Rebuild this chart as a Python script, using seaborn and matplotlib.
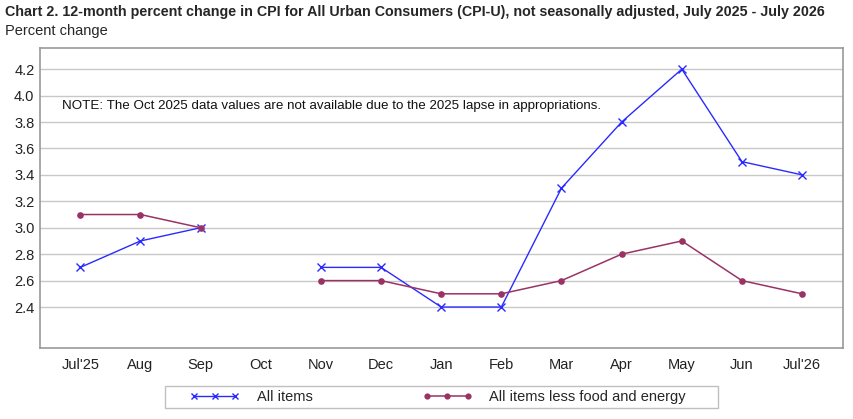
import numpy as np
import pandas as pd
import matplotlib
matplotlib.use('Agg')
import matplotlib.pyplot as plt
from matplotlib.lines import Line2D
from matplotlib.patches import Rectangle
import seaborn as sns

months = ["Jul'25", 'Aug', 'Sep', 'Oct', 'Nov', 'Dec', 'Jan', 'Feb', 'Mar', 'Apr', 'May', 'Jun', "Jul'26"]
all_items = [2.7, 2.9, 3.0, np.nan, 2.7, 2.7, 2.4, 2.4, 3.3, 3.8, 4.2, 3.5, 3.4]
core = [3.1, 3.1, 3.0, np.nan, 2.6, 2.6, 2.5, 2.5, 2.6, 2.8, 2.9, 2.6, 2.5]
yticks = [2.4, 2.6, 2.8, 3.0, 3.2, 3.4, 3.6, 3.8, 4.0, 4.2]

blue = '#2a2aff'
maroon = '#993366'

# long table, segment id splits the series at the missing October value
rows = []
for name, vals in [('All items', all_items), ('All items less food and energy', core)]:
    seg = 0
    for i, v in enumerate(vals):
        if np.isnan(v):
            seg += 1
            continue
        rows.append({'x': i, 'value': v, 'series': name, 'seg': seg})
df = pd.DataFrame(rows)

sns.set_style('white')
plt.rcParams['font.family'] = ['Liberation Sans', 'DejaVu Sans']

fig = plt.figure(figsize=(8.54, 4.19), dpi=100)
ax = fig.add_axes([40 / 854, 1 - 348 / 419, 803 / 854, 300 / 419])

sns.lineplot(data=df[df.series == 'All items'], x='x', y='value', units='seg', estimator=None,
             color=blue, marker='x', markersize=6, markeredgewidth=1, markeredgecolor=blue,
             linewidth=1, ax=ax, legend=False)
sns.lineplot(data=df[df.series != 'All items'], x='x', y='value', units='seg', estimator=None,
             color=maroon, marker='o', markersize=4.8, markeredgewidth=0, linewidth=1.1, ax=ax, legend=False)

ax.set_xlim(-0.67, 12.68)
ax.set_ylim(2.09, 4.36)
ax.set_xticks(range(len(months)))
ax.set_xticklabels(months)
ax.set_yticks(yticks)
ax.set_yticklabels(['%.1f' % t for t in yticks])
ax.set_xlabel('')
ax.set_ylabel('')
ax.yaxis.grid(True, color='#c8c8c8', linewidth=1)
ax.set_axisbelow(True)
ax.tick_params(axis='x', length=3, color='#999999', labelsize=10.5, pad=4, labelcolor='#222222')
ax.tick_params(axis='y', length=0, labelsize=10.5, pad=4, labelcolor='#222222')
for s in ax.spines.values():
    s.set_color('#999999')
    s.set_linewidth(1.2)

ax.text(0.027, 0.807, 'NOTE: The Oct 2025 data values are not available due to the 2025 lapse in appropriations.',
        transform=ax.transAxes, fontsize=9.6, va='center', color='#111111')

fig.text(5 / 854, 1 - 12 / 419, 'Chart 2. 12-month percent change in CPI for All Urban Consumers (CPI-U), '
         'not seasonally adjusted, July 2025 - July 2026', fontsize=10.3, fontweight='bold', va='center')
fig.text(5 / 854, 1 - 31 / 419, 'Percent change', fontsize=10.5, va='center')

# legend box drawn separately so the padding matches
fig.patches.append(Rectangle((165 / 854, 1 - 408 / 419), 553 / 854, 22 / 419, transform=fig.transFigure,
                             facecolor='white', edgecolor='#c0c0c0', linewidth=1))
handles = [Line2D([], [], color=blue, marker='x', markersize=4.5, markeredgewidth=1, linewidth=1),
           Line2D([], [], color=maroon, marker='o', markersize=4.5, markeredgewidth=0, linewidth=1.1)]
leg = fig.legend(handles, ['All items', 'All items less food and energy'], ncol=2, numpoints=3,
                 handlelength=3.4, columnspacing=7.5, handletextpad=1.2, fontsize=10.5,
                 loc='center left', bbox_to_anchor=(190 / 854, 1 - 397 / 419), frameon=False,
                 borderpad=0, borderaxespad=0)

fig.savefig('out.png', dpi=100)
